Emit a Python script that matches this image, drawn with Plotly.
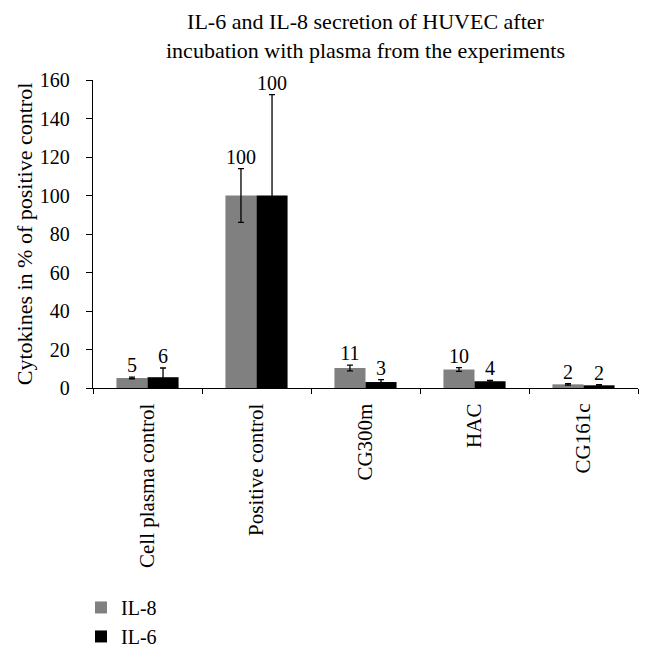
import plotly.graph_objects as go

categories = ["Cell plasma control", "Positive control", "CG300m", "HAC", "CG161c"]
il8_values = [5.2, 100, 10.4, 9.6, 1.9]
il8_errors = [0.4, 14, 1.5, 1.0, 0.4]
il8_labels = ["5", "100", "11", "10", "2"]
il6_values = [5.6, 100, 3.1, 3.5, 1.4]
il6_errors = [4.8, 52.4, 1.2, 0.5, 0.4]
il6_labels = ["6", "100", "3", "4", "2"]
title_text = "IL-6 and IL-8 secretion of HUVEC after<br>incubation with plasma from the experiments"

FONT = "Liberation Serif"

fig = go.Figure()
fig.add_trace(go.Bar(
    x=categories, y=il8_values, name="IL-8", marker=dict(color="#808080", line=dict(width=0)),
    error_y=dict(type="data", array=il8_errors, color="black", thickness=1.3, width=3),
    offsetgroup="a", alignmentgroup="g",
))
fig.add_trace(go.Bar(
    x=categories, y=il6_values, name="IL-6", marker=dict(color="#000000", line=dict(width=0)),
    error_y=dict(type="data", array=il6_errors, color="black", thickness=1.3, width=3),
    offsetgroup="b", alignmentgroup="g",
))
fig.add_trace(go.Scatter(
    x=categories, y=[v + e for v, e in zip(il8_values, il8_errors)], text=il8_labels,
    mode="text", textposition="top center", textfont=dict(family=FONT, size=20, color="black"),
    showlegend=False, offsetgroup="a", alignmentgroup="g", hoverinfo="skip", cliponaxis=False,
))
fig.add_trace(go.Scatter(
    x=categories, y=[v + e for v, e in zip(il6_values, il6_errors)], text=il6_labels,
    mode="text", textposition="top center", textfont=dict(family=FONT, size=20, color="black"),
    showlegend=False, offsetgroup="b", alignmentgroup="g", hoverinfo="skip", cliponaxis=False,
))

fig.add_annotation(text=title_text, xref="paper", yref="paper", x=0.5, y=1.143,
                   xanchor="center", yanchor="middle", showarrow=False,
                   font=dict(family=FONT, size=22, color="black"))

fig.update_layout(
    width=645, height=648,
    margin=dict(l=85, r=15, t=72, b=268),
    plot_bgcolor="white", paper_bgcolor="white",
    barmode="group", bargap=0.43, bargroupgap=0, scattermode="group",
    font=dict(family=FONT, size=20, color="black"),
    xaxis=dict(
        showline=True, linecolor="black", linewidth=1.3, automargin=False,
        ticks="outside", tickson="boundaries", ticklen=5, tickcolor="black", tickwidth=1,
        tickangle=-90, tickfont=dict(family=FONT, size=21), showgrid=False,
        ticklabelstandoff=6,
    ),
    yaxis=dict(
        range=[0, 160], dtick=20, showline=True, linecolor="black", linewidth=1.3,
        automargin=False, ticks="outside", ticklen=6, tickcolor="black", tickwidth=1,
        showgrid=False, zeroline=False, ticklabelstandoff=12,
        tickfont=dict(family=FONT, size=20),
        title=dict(text="Cytokines in % of positive control", font=dict(family=FONT, size=22), standoff=1),
    ),
    legend=dict(
        x=-0.022, xanchor="left", xref="paper", y=0.105, yanchor="top", yref="container",
        font=dict(family=FONT, size=20), itemwidth=30, tracegroupgap=0,
    ),
)

fig.write_html("out.html")
